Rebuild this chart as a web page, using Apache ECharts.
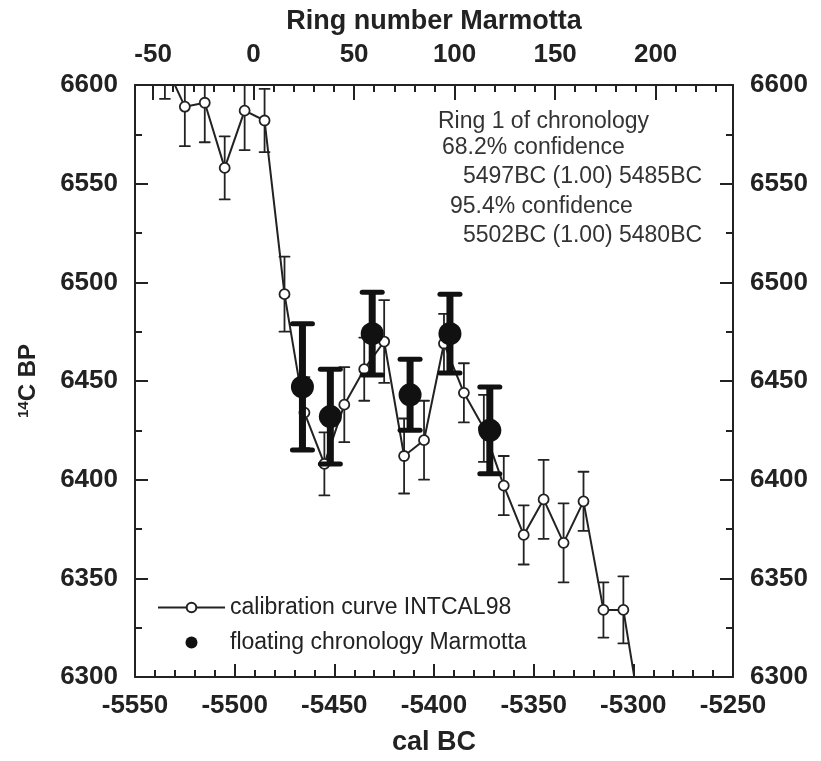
<!DOCTYPE html>
<html>
<head>
<meta charset="utf-8">
<script src="https://cdn.jsdelivr.net/npm/echarts@6/dist/echarts.min.js"></script>
<style>
  html, body { margin: 0; padding: 0; background: #fff; }
  #chart { width: 821px; height: 761px; }
</style>
</head>
<body>
<div id="chart"></div>
<script>
// calibration curve INTCAL98 (decadal), cal BC / 14C BP / 1 sigma
var calYear = [-5535, -5525, -5515, -5505, -5495, -5485, -5475, -5465, -5455, -5445, -5435, -5425, -5415,
               -5405, -5395, -5385, -5375, -5365, -5355, -5345, -5335, -5325, -5315, -5305, -5295];
var calBP   = [6611, 6589, 6591, 6558, 6587, 6582, 6494, 6434, 6408, 6438, 6456, 6470, 6412,
               6420, 6469, 6444, 6426, 6397, 6372, 6390, 6368, 6389, 6334, 6334, 6272];
var calErr  = [18, 20, 20, 16, 20, 16, 19, 18, 16, 19, 16, 21, 19,
               20, 15, 15, 17, 15, 15, 20, 20, 15, 14, 17, 15];

// floating chronology Marmotta
var chronYear = [-5466, -5452, -5431, -5412, -5392, -5372];
var chronBP   = [6447, 6432, 6474, 6443, 6474, 6425];
var chronErr  = [32, 24, 21, 18, 20, 22];

// top axis (ring number)
var ringLabels = [-50, 0, 50, 100, 150, 200];
var ringMinor = [];
for (var r = -50; r <= 230; r += 10) ringMinor.push(r);

var notes = [
  'Ring 1 of chronology',
  '68.2% confidence',
  '5497BC (1.00) 5485BC',
  '95.4% confidence',
  '5502BC (1.00) 5480BC'
];

var BP_MIN = 6300, BP_MAX = 6600;
var YR_MIN = -5550, YR_MAX = -5250;
var INK = '#222';
var FONT = '"Liberation Sans", Arial, sans-serif';

var chart = echarts.init(document.getElementById('chart'));

function makeBars(ys, vals, errs) {
  return ys.map(function (x, i) { return [x, vals[i] - errs[i], vals[i] + errs[i]]; });
}

// error bars through the axes' own scales
function errorBar(lineW, capW, capLineW, color) {
  return function (params, api) {
    var x = api.value(0), lo = api.value(1), hi = api.value(2);
    if (x < YR_MIN || x > YR_MAX) return null;
    var loC = Math.max(lo, BP_MIN), hiC = Math.min(hi, BP_MAX);
    if (loC >= hiC) return null;
    var top = api.coord([x, hiC]), bot = api.coord([x, loC]);
    var kids = [{
      type: 'line',
      shape: { x1: top[0], y1: top[1], x2: bot[0], y2: bot[1] },
      style: { stroke: color, lineWidth: lineW }
    }];
    if (hi <= BP_MAX) kids.push({
      type: 'line',
      shape: { x1: top[0] - capW / 2, y1: top[1], x2: top[0] + capW / 2, y2: top[1] },
      style: { stroke: color, lineWidth: capLineW, lineCap: 'round' }
    });
    if (lo >= BP_MIN) kids.push({
      type: 'line',
      shape: { x1: bot[0] - capW / 2, y1: bot[1], x2: bot[0] + capW / 2, y2: bot[1] },
      style: { stroke: color, lineWidth: capLineW, lineCap: 'round' }
    });
    return { type: 'group', children: kids };
  };
}

function plain(v) { return String(v); }

var labelStyle = { fontSize: 26, fontWeight: 'bold', fontFamily: FONT, color: INK, formatter: plain };
var nameStyle = { fontSize: 27, fontWeight: 'bold', fontFamily: FONT, color: INK };
var axisLine = { show: true, onZero: false, lineStyle: { color: INK, width: 2 } };

function valueY(pos, withName) {
  var ax = {
    type: 'value', position: pos, min: BP_MIN, max: BP_MAX, interval: 50,
    axisLine: axisLine,
    axisTick: { inside: true, length: 13, lineStyle: { color: INK, width: 2 } },
    minorTick: { show: true, splitNumber: 2, length: 7, lineStyle: { color: INK, width: 2 } },
    axisLabel: Object.assign({ margin: 17 }, labelStyle),
    splitLine: { show: false }
  };
  if (withName) {
    ax.name = '{s|14}C BP';
    ax.nameLocation = 'middle';
    ax.nameGap = 95;
    ax.nameTextStyle = {
      fontSize: 24, fontWeight: 'bold', fontFamily: FONT, color: INK,
      rich: { s: { fontSize: 15, fontWeight: 'bold', fontFamily: FONT, color: INK, verticalAlign: 'top', padding: [0, 0, 6, 0] } }
    };
  }
  return ax;
}

var noteGraphics = [
  { x: 438, y: 122 },
  { x: 442, y: 148 },
  { x: 463, y: 177 },
  { x: 450, y: 207 },
  { x: 463, y: 236 }
].map(function (p, i) {
  return {
    type: 'text', x: p.x, y: p.y,
    style: { text: notes[i], font: '23px ' + FONT, fill: '#333', align: 'left', verticalAlign: 'middle' }
  };
});

var option = {
  animation: false,
  backgroundColor: '#fff',
  grid: { left: 135, right: 88, top: 85, bottom: 78, containLabel: false },
  legend: {
    orient: 'vertical', left: 157, top: 596, padding: 0,
    itemWidth: 67, itemHeight: 12, itemGap: 12,
    textStyle: { fontSize: 23, fontFamily: FONT, color: INK },
    data: ['calibration curve INTCAL98', 'floating chronology Marmotta']
  },
  xAxis: [
    {
      type: 'value', position: 'bottom', min: YR_MIN, max: YR_MAX, interval: 50,
      axisLine: axisLine,
      axisTick: { inside: true, length: 13, lineStyle: { color: INK, width: 2 } },
      minorTick: { show: true, splitNumber: 5, length: 7, lineStyle: { color: INK, width: 2 } },
      axisLabel: Object.assign({ margin: 16 }, labelStyle),
      splitLine: { show: false },
      name: 'cal BC', nameLocation: 'middle', nameGap: 52, nameTextStyle: nameStyle
    },
    {
      type: 'value', position: 'top', min: -59, max: 238.5,
      axisLine: axisLine,
      axisTick: { inside: true, length: 15, customValues: ringLabels, lineStyle: { color: INK, width: 2 } },
      axisLabel: Object.assign({ margin: 17, customValues: ringLabels }, labelStyle),
      splitLine: { show: false },
      name: 'Ring number Marmotta', nameLocation: 'middle', nameGap: 50, nameTextStyle: nameStyle
    },
    {
      type: 'value', position: 'top', min: -59, max: 238.5,
      axisLine: { show: false },
      axisTick: { inside: true, length: 7, customValues: ringMinor, lineStyle: { color: INK, width: 2 } },
      axisLabel: { show: false },
      splitLine: { show: false }
    }
  ],
  yAxis: [valueY('left', true), valueY('right', false)],
  graphic: noteGraphics,
  series: [
    {
      name: 'calErr', type: 'custom', xAxisIndex: 0, yAxisIndex: 0, z: 2, clip: true,
      renderItem: errorBar(1.8, 10, 1.8, INK),
      data: makeBars(calYear, calBP, calErr)
    },
    {
      name: 'calibration curve INTCAL98', type: 'line', xAxisIndex: 0, yAxisIndex: 0, z: 3,
      data: calYear.map(function (x, i) { return [x, calBP[i]]; }),
      symbol: 'circle', symbolSize: 10, showAllSymbol: true,
      lineStyle: { color: INK, width: 2 },
      itemStyle: { color: '#fff', borderColor: INK, borderWidth: 1.8 }
    },
    {
      name: 'chronErr', type: 'custom', xAxisIndex: 0, yAxisIndex: 0, z: 4, clip: true,
      renderItem: errorBar(7, 20, 5, '#111'),
      data: makeBars(chronYear, chronBP, chronErr)
    },
    {
      name: 'floating chronology Marmotta', type: 'scatter', xAxisIndex: 0, yAxisIndex: 0, z: 5,
      data: chronYear.map(function (x, i) { return [x, chronBP[i]]; }),
      symbol: 'circle', symbolSize: 23,
      itemStyle: { color: '#111', opacity: 1 }
    }
  ]
};

chart.setOption(option);
</script>
</body>
</html>
